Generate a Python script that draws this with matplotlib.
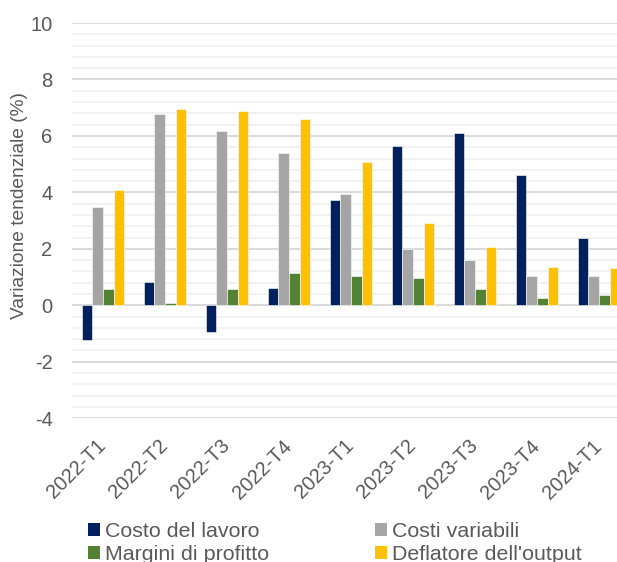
import numpy as np
import matplotlib.pyplot as plt
from matplotlib.ticker import MultipleLocator
from matplotlib.patches import Patch

plt.rcParams['font.family'] = ['Liberation Sans', 'DejaVu Sans']

trimestri = ['2022-T1', '2022-T2', '2022-T3', '2022-T4', '2023-T1',
             '2023-T2', '2023-T3', '2023-T4', '2024-T1']
costo_lavoro = [-1.24, 0.83, -0.95, 0.61, 3.72, 5.63, 6.09, 4.60, 2.38]
costi_variabili = [3.49, 6.76, 6.19, 5.38, 3.95, 1.99, 1.61, 1.04, 1.04]
margini_profitto = [0.58, 0.08, 0.56, 1.15, 1.05, 0.96, 0.56, 0.27, 0.37]
deflatore_output = [4.08, 6.95, 6.88, 6.60, 5.06, 2.93, 2.08, 1.35, 1.32]

serie = [
    ('Costo del lavoro', costo_lavoro, '#002060'),
    ('Costi variabili', costi_variabili, '#A5A5A5'),
    ('Margini di profitto', margini_profitto, '#548235'),
    ("Deflatore dell'output", deflatore_output, '#FFC000'),
]

testo = '#595959'
fig = plt.figure(figsize=(6.17, 5.62), dpi=100)
ax = fig.add_axes([0.1167, 0.256, 0.8833, 0.703])

x = np.arange(len(trimestri))
w = 0.173
for i, (nome, valori, colore) in enumerate(serie):
    ax.bar(x + (i - 1.5) * w, valori, w, color=colore, edgecolor='white',
           linewidth=0.4, zorder=3)

ax.set_ylim(-4, 10)
ax.set_xlim(-0.5, 8.29)
ax.yaxis.set_major_locator(MultipleLocator(2))
ax.yaxis.set_minor_locator(MultipleLocator(0.4))
ax.grid(which='major', axis='y', color='#D9D9D9', linewidth=1.4, zorder=0)
ax.grid(which='minor', axis='y', color='#F2F2F2', linewidth=1.4, zorder=0)
for s in ax.spines.values():
    s.set_visible(False)
ax.tick_params(axis='y', which='both', length=0, labelsize=14.5,
               labelcolor=testo, pad=14)
ax.tick_params(axis='x', length=0, labelsize=14.4, labelcolor=testo, pad=13)
ax.set_yticks(np.arange(-4, 11, 2))
ax.set_yticklabels([str(v) for v in range(-4, 11, 2)])
ax.set_xticks(x - 0.11)
ax.set_xticklabels(trimestri, rotation=45, ha='right', rotation_mode='anchor')
ax.set_ylabel('Variazione tendenziale (%)', fontsize=13.8, color=testo)
ax.yaxis.set_label_coords(-0.08, 0.537)

# legenda su due colonne: riga 1 lavoro / variabili, riga 2 margini / deflatore
ordine = [0, 2, 1, 3]
maniglie = [Patch(facecolor=serie[k][2], edgecolor='none') for k in ordine]
fig.legend(maniglie, [serie[k][0] for k in ordine], loc='upper left',
           bbox_to_anchor=(0.1426, 0.071), ncol=2, frameon=False,
           fontsize=15.4, labelcolor=testo, handlelength=0.55,
           handleheight=0.55, handletextpad=0.25, columnspacing=4.95,
           labelspacing=0.2, borderpad=0, borderaxespad=0)

fig.savefig('out.png', dpi=100)
